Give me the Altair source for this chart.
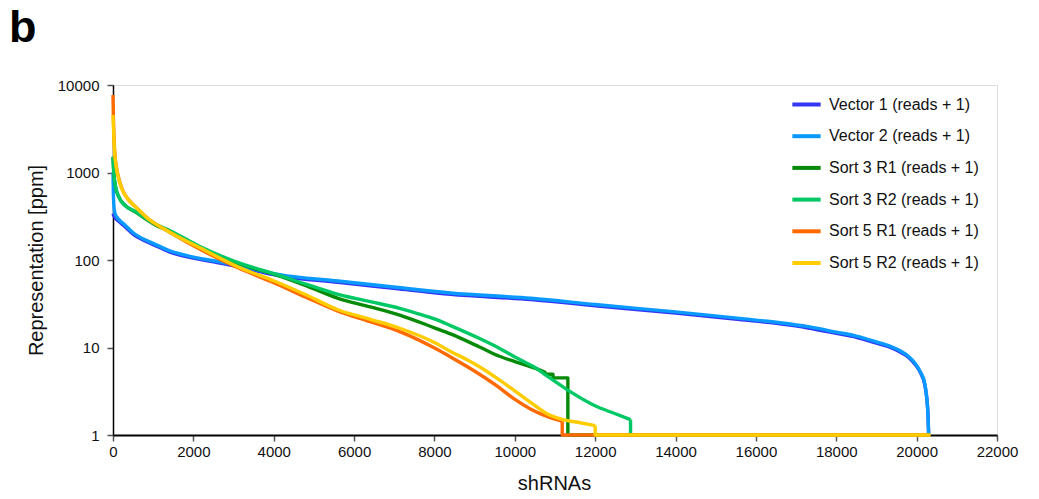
import altair as alt
import pandas as pd

# ---- data ----
series_names = [
    "Vector 1 (reads + 1)",
    "Vector 2 (reads + 1)",
    "Sort 3 R1 (reads + 1)",
    "Sort 3 R2 (reads + 1)",
    "Sort 5 R1 (reads + 1)",
    "Sort 5 R2 (reads + 1)",
]
series_colors = ["#3535F5", "#0A9AFF", "#078A07", "#00C865", "#FF6A00", "#FFCC00"]

# smooth parts of the curves
vec1_x = [0, 10, 30, 60, 150, 300, 500, 800, 1000, 1400, 2000, 2500, 3150, 4000, 4150,
          5600, 7100, 8400, 10400, 12000, 14000, 15600, 16600, 17300, 18000, 18500,
          19000, 19300, 19600, 19800, 19950, 20100, 20200, 20250, 20280, 20300]
vec1_y = [340, 330, 315, 300, 275, 240, 198, 165, 150, 124, 105, 95, 83, 68, 66,
          55.5, 47, 40.5, 35.3, 30, 24.7, 20.8, 18.6, 16.7, 14.5, 13.1,
          11.2, 10.2, 8.8, 7.7, 6.5, 5.1, 3.8, 2.7, 1.8, 1]

vec2_x = [0, 10, 30, 60, 150, 300, 500, 800, 1000, 1400, 2000, 2500, 3150, 4000, 4150,
          5600, 7100, 8400, 10400, 12000, 14000, 15600, 16600, 17300, 18000, 18500,
          19000, 19300, 19600, 19800, 19950, 20100, 20200, 20250, 20280, 20300]
vec2_y = [1000, 560, 380, 330, 290, 250, 205, 170, 155, 128, 108, 98, 86, 70, 68,
          57.5, 48.5, 42, 36.5, 31, 25.5, 21.5, 19.2, 17.3, 15, 13.5,
          11.6, 10.5, 9.1, 7.9, 6.7, 5.2, 3.9, 2.7, 1.8, 1]

s3r1_x = [0, 20, 60, 150, 300, 550, 1000, 1400, 2200, 3150, 4000, 4800, 5600, 6400,
          7135, 8000, 8400, 9150, 9600, 10000, 10400, 10600]
s3r1_y = [1500, 1000, 700, 520, 420, 355, 260, 212, 136, 90, 69, 51, 36.5, 29.2,
          23.5, 16.8, 14.3, 10.0, 8.0, 6.9, 6.0, 5.6]

s3r2_x = [0, 20, 60, 150, 300, 550, 1000, 1400, 2200, 3150, 4000, 4800, 5600, 6400,
          7135, 7600, 8050, 8400, 9150, 9600, 10000, 10450, 10870, 11300, 12050,
          12500, 12880]
s3r2_y = [1520, 1000, 700, 520, 420, 360, 264, 218, 140, 92, 70, 53, 40.5, 33.5,
          28, 24.3, 20.8, 17.8, 12.5, 9.9, 7.8, 6.1, 4.5, 3.3, 2.1,
          1.75, 1.5]

s5r1_x = [0, 10, 30, 60, 120, 220, 400, 550, 900, 1380, 2200, 3150, 4000, 4800,
          5600, 6400, 7135, 8050, 8400, 8800, 9150, 9570, 9975, 10400, 10800,
          11180]
s5r1_y = [7700, 4300, 2200, 1400, 950, 660, 480, 410, 290, 212, 130, 80, 55, 37.6,
          26, 19.7, 15.2, 9.6, 7.8, 6.1, 4.85, 3.6, 2.6, 1.97, 1.63,
          1.44]

s5r2_x = [0, 10, 30, 60, 120, 220, 400, 550, 900, 1380, 2200, 3150, 4000, 4800,
          5600, 6400, 7135, 8050, 8400, 8800, 9150, 9570, 9975, 10400, 10800,
          11200, 11630, 12000]
s5r2_y = [4540, 3500, 2000, 1350, 930, 650, 480, 410, 290, 212, 135, 82, 58, 40,
          27, 21, 16.6, 11.1, 9.0, 7.3, 5.9, 4.4, 3.25, 2.35, 1.75,
          1.5, 1.38, 1.28]

# stepped / dropping tails (drawn with straight segments)
vec1_tail_x, vec1_tail_y = [], []
vec2_tail_x, vec2_tail_y = [], []
s3r1_tail_x = [10600, 10750, 10750, 10950, 10950, 11320, 11320, 20300]
s3r1_tail_y = [5.6, 5.2, 4.95, 4.95, 4.5, 4.5, 1, 1]
s3r2_tail_x = [12880, 12880, 20300]
s3r2_tail_y = [1.5, 1, 1]
s5r1_tail_x = [11180, 11180, 20300]
s5r1_tail_y = [1.44, 1, 1]
s5r2_tail_x = [12000, 12000, 20350]
s5r2_tail_y = [1.28, 1, 1]

x_ticks = list(range(0, 22001, 2000))
y_ticks = [1, 10, 100, 1000, 10000]

curve_x = [vec1_x, vec2_x, s3r1_x, s3r2_x, s5r1_x, s5r2_x]
curve_y = [vec1_y, vec2_y, s3r1_y, s3r2_y, s5r1_y, s5r2_y]
tail_x = [vec1_tail_x, vec2_tail_x, s3r1_tail_x, s3r2_tail_x, s5r1_tail_x, s5r2_tail_x]
tail_y = [vec1_tail_y, vec2_tail_y, s3r1_tail_y, s3r2_tail_y, s5r1_tail_y, s5r2_tail_y]

frames = []
for name, cx, cy, tx, ty in zip(series_names, curve_x, curve_y, tail_x, tail_y):
    frames.append(pd.DataFrame({"series": name, "part": "curve", "x": cx, "y": cy,
                                "i": range(len(cx))}))
    if tx:
        frames.append(pd.DataFrame({"series": name, "part": "tail", "x": tx, "y": ty,
                                    "i": range(len(tx))}))
df = pd.concat(frames, ignore_index=True)

FONT = "Liberation Sans"

color = alt.Color(
    "series:N",
    scale=alt.Scale(domain=series_names, range=series_colors),
    legend=alt.Legend(
        title=None,
        orient="none",
        legendX=677,
        legendY=3,
        symbolType="stroke",
        symbolSize=800,
        symbolStrokeWidth=4,
        labelFontSize=16,
        labelFont=FONT,
        labelColor="#111111",
        labelOffset=6,
        rowPadding=6.7,
        padding=0,
    ),
)

x_enc = alt.X(
    "x:Q",
    scale=alt.Scale(domain=[0, 22000], nice=False),
    axis=alt.Axis(
        values=x_ticks, format="d", title="shRNAs", grid=False,
        titleFontSize=20, titleFont=FONT, titleFontWeight="normal", titleColor="#111111",
        titleBaseline="alphabetic", titleY=54, titleX=441,
        labelFontSize=15, labelFont=FONT, labelColor="#111111", labelPadding=3,
        domainColor="black", domainWidth=2, tickColor="#555555", tickSize=6, tickWidth=1.5,
        labelFlush=False,
    ),
)
y_enc = alt.Y(
    "y:Q",
    scale=alt.Scale(type="log", domain=[1, 10000], nice=False),
    axis=alt.Axis(
        values=y_ticks, format="d", title="Representation [ppm]", grid=False,
        titleFontSize=20, titleFont=FONT, titleFontWeight="normal", titleColor="#111111",
        titleAngle=270, titleBaseline="bottom", titleAlign="center", titleX=-67, titleY=175,
        labelFontSize=15, labelFont=FONT, labelColor="#111111", labelPadding=8,
        domainColor="black", domainWidth=1.5, tickColor="#555555", tickSize=6, tickWidth=1.5,
        labelFlush=False,
    ),
)

layers = []
for name in series_names:
    for part, interp in (("curve", "monotone"), ("tail", "linear")):
        layers.append(
            alt.Chart(df)
            .transform_filter((alt.datum.series == name) & (alt.datum.part == part))
            .mark_line(strokeWidth=3.4, strokeJoin="round", interpolate=interp)
            .encode(x=x_enc, y=y_enc, color=color, order=alt.Order("i:Q"))
        )

chart = (
    alt.layer(*layers)
    .properties(
        width=884,
        height=350,
        title=alt.TitleParams(
            "b", fontSize=45, fontWeight="bold", font=FONT, color="black",
            anchor="start", frame="group", baseline="alphabetic", dx=-104, offset=0, dy=9,
        ),
        autosize=alt.AutoSizeParams(type="none"),
        padding={"left": 105, "top": 77, "right": 34, "bottom": 64},
    )
    .configure_view(stroke=None)
    .configure(background="white")
)

chart.save("out.html", embed_options={"renderer": "svg", "actions": False})
